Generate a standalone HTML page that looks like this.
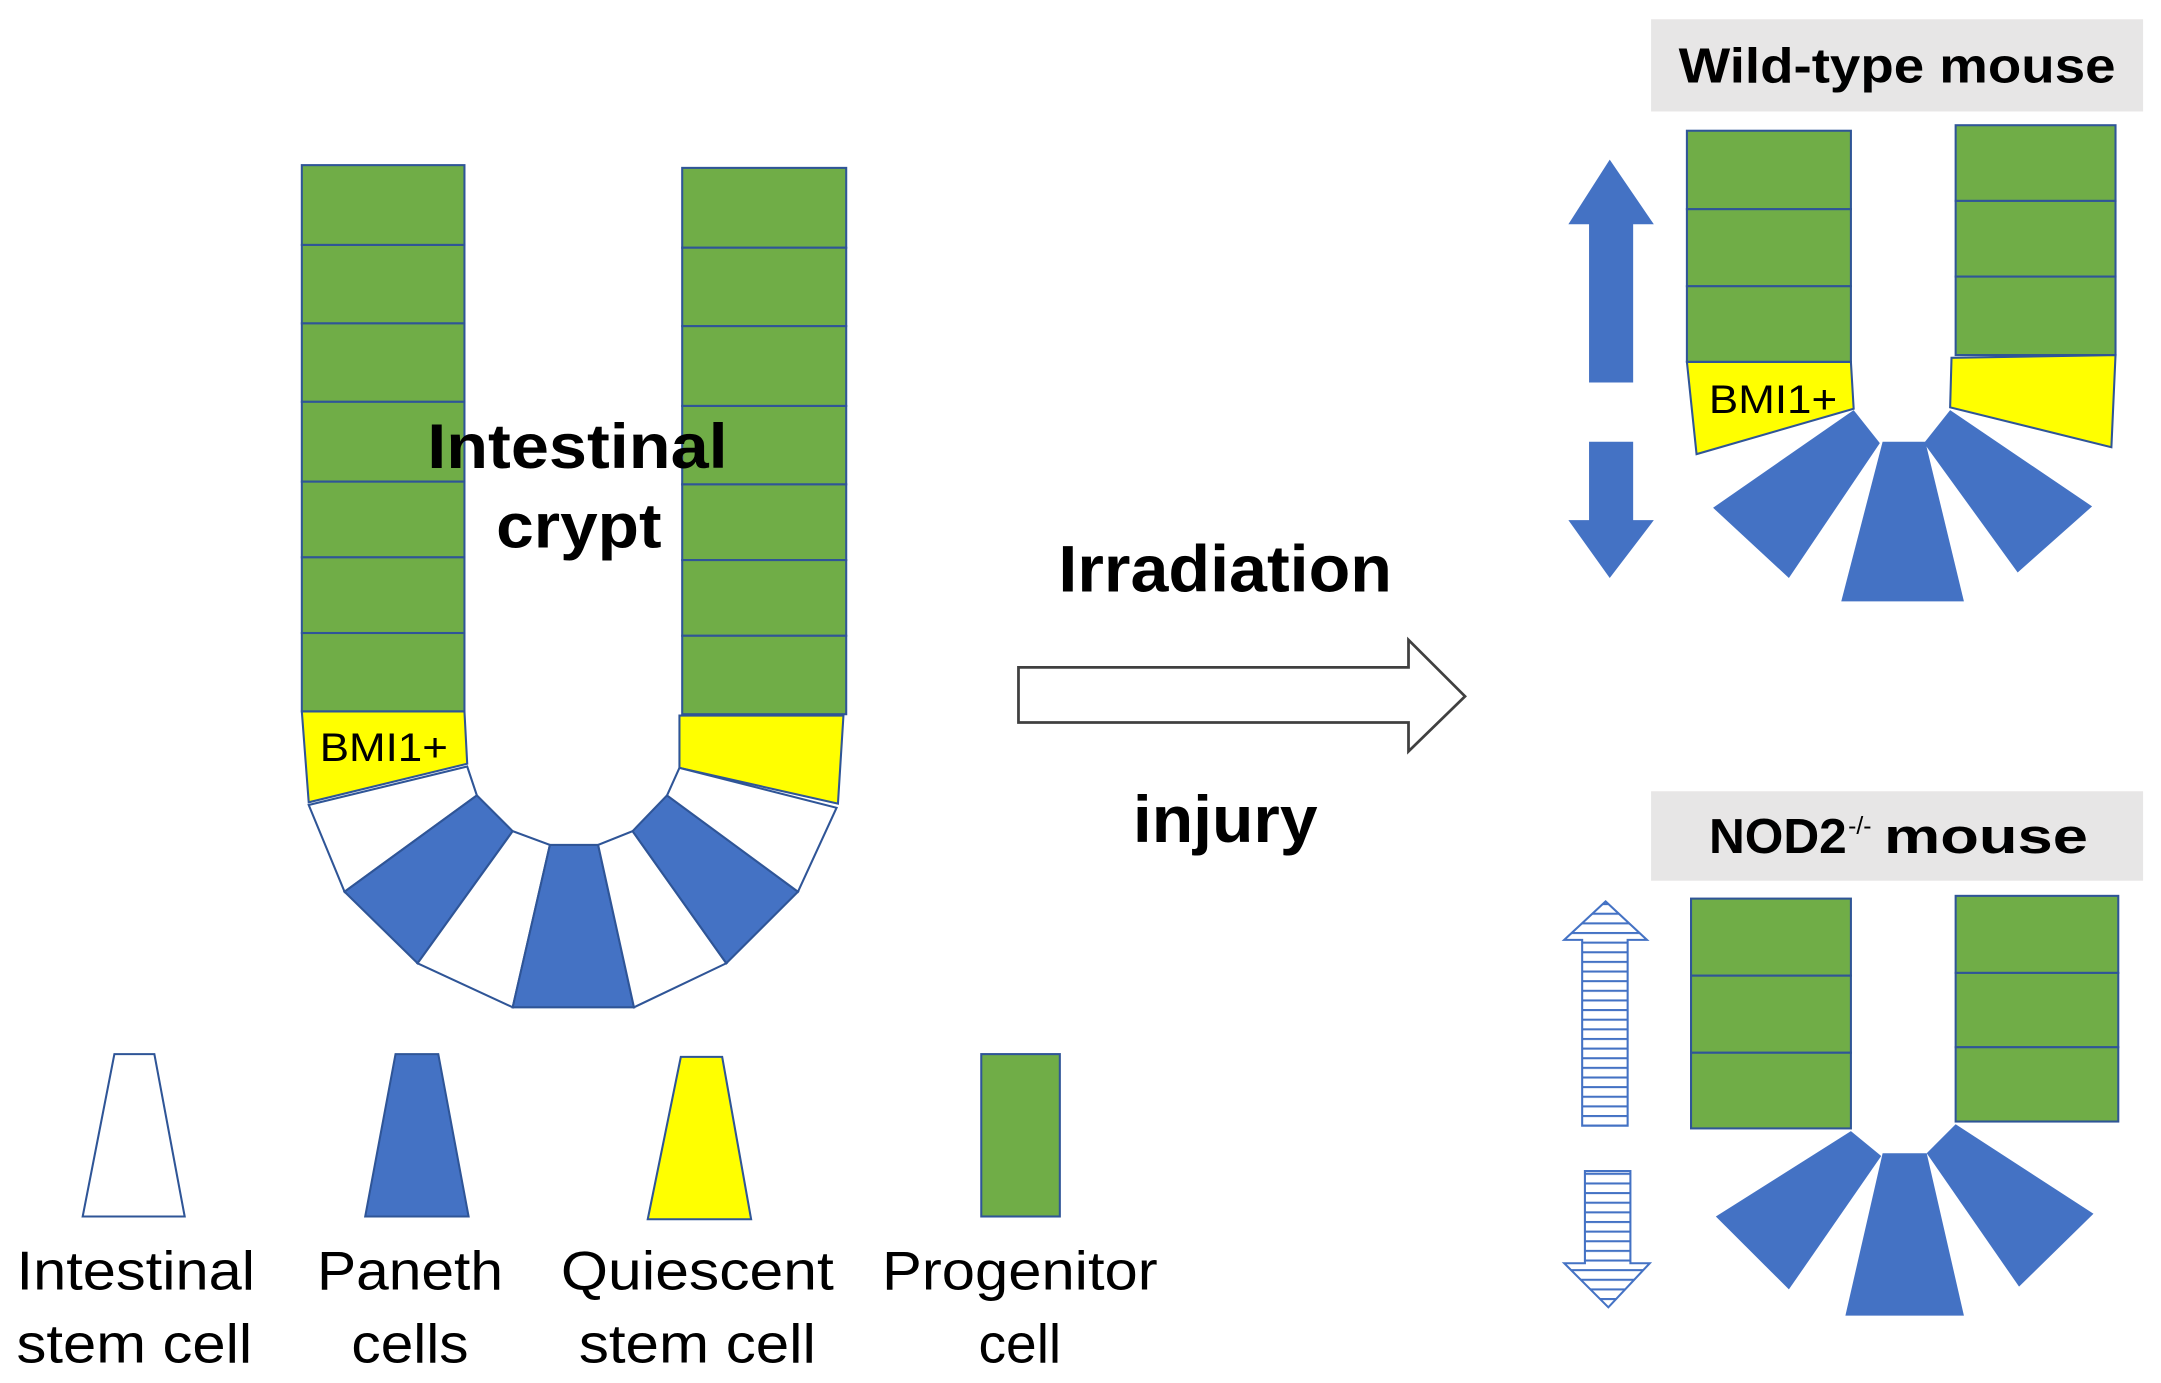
<!DOCTYPE html>
<html><head><meta charset="utf-8"><style>
html,body{margin:0;padding:0;background:#fff;}
svg{display:block;}
text{font-family:"Liberation Sans",Arial,sans-serif;}
</style></head><body>
<svg width="2161" height="1383" viewBox="0 0 1568 1005" preserveAspectRatio="none" xmlns="http://www.w3.org/2000/svg">
<defs>
<pattern id="st" width="10" height="7" patternUnits="userSpaceOnUse">
<rect width="10" height="7" fill="#fff"/><line x1="0" y1="6" x2="10" y2="6" stroke="#4472c4" stroke-width="1.5"/>
</pattern>
</defs>
<g stroke="#2f5597" stroke-width="1.5">
<g fill="#70ad47">
<rect x="219" y="120" width="118" height="58"/><rect x="219" y="178" width="118" height="57"/><rect x="219" y="235" width="118" height="57"/>
<rect x="219" y="292" width="118" height="58"/><rect x="219" y="350" width="118" height="55"/><rect x="219" y="405" width="118" height="55"/><rect x="219" y="460" width="118" height="57"/>
<rect x="495" y="122" width="119" height="58"/><rect x="495" y="180" width="119" height="57"/><rect x="495" y="237" width="119" height="58"/>
<rect x="495" y="295" width="119" height="57"/><rect x="495" y="352" width="119" height="55"/><rect x="495" y="407" width="119" height="55"/><rect x="495" y="462" width="119" height="57"/>
</g>
<polygon points="219,517 337,517 339,555 224,583" fill="#ffff00"/>
<polygon points="493,520 612,520 608,584 493,558" fill="#ffff00"/>
<polygon points="224,585 250,648 346,578 339,557" fill="#fff"/>
<polygon points="250,648 303,700 372,604 346,578" fill="#4472c4"/>
<polygon points="303,700 372,732 399,614 372,604" fill="#fff"/>
<polygon points="372,732 460,732 434,614 399,614" fill="#4472c4"/>
<polygon points="460,732 527,700 459,604 434,614" fill="#fff"/>
<polygon points="527,700 579,648 484,578 459,604" fill="#4472c4"/>
<polygon points="579,648 607,587 493,558 484,578" fill="#fff"/>
<polygon points="83,766 112,766 134,884 60,884" fill="#fff"/>
<polygon points="287,766 318,766 340,884 265,884" fill="#4472c4"/>
<polygon points="494,768 524,768 545,886 470,886" fill="#ffff00"/>
<rect x="712" y="766" width="57" height="118" fill="#70ad47"/>
</g>
<text x="232" y="553" font-size="29" textLength="93" lengthAdjust="spacingAndGlyphs">BMI1+</text>
<text x="310" y="340" font-size="46" font-weight="bold" textLength="218" lengthAdjust="spacingAndGlyphs">Intestinal</text>
<text x="360" y="398" font-size="46" font-weight="bold" textLength="120" lengthAdjust="spacingAndGlyphs">crypt</text>
<g font-size="40">
<text x="12" y="937" textLength="173" lengthAdjust="spacingAndGlyphs">Intestinal</text><text x="12" y="990" textLength="171" lengthAdjust="spacingAndGlyphs">stem cell</text>
<text x="230" y="937" textLength="135" lengthAdjust="spacingAndGlyphs">Paneth</text><text x="255" y="990" textLength="85" lengthAdjust="spacingAndGlyphs">cells</text>
<text x="407" y="937" textLength="198" lengthAdjust="spacingAndGlyphs">Quiescent</text><text x="420" y="990" textLength="172" lengthAdjust="spacingAndGlyphs">stem cell</text>
<text x="640" y="937" textLength="200" lengthAdjust="spacingAndGlyphs">Progenitor</text><text x="710" y="990" textLength="60" lengthAdjust="spacingAndGlyphs">cell</text>
</g>
<polygon points="739,485 1022,485 1022,465 1063,506 1022,546 1022,525 739,525" fill="#fff" stroke="#404040" stroke-width="2"/>
<text x="768" y="430" font-size="48" font-weight="bold" textLength="242" lengthAdjust="spacingAndGlyphs">Irradiation</text>
<text x="822" y="612" font-size="48" font-weight="bold" textLength="134" lengthAdjust="spacingAndGlyphs">injury</text>
<rect x="1198" y="14" width="357" height="67" fill="#e7e6e6"/>
<text x="1218" y="60" font-size="36" font-weight="bold" textLength="317" lengthAdjust="spacingAndGlyphs">Wild-type mouse</text>
<g stroke="#2f5597" stroke-width="1.5">
<g fill="#70ad47">
<rect x="1224" y="95" width="119" height="57"/><rect x="1224" y="152" width="119" height="56"/><rect x="1224" y="208" width="119" height="55"/>
<rect x="1419" y="91" width="116" height="55"/><rect x="1419" y="146" width="116" height="55"/><rect x="1419" y="201" width="116" height="57"/>
</g>
<polygon points="1224,263 1343,263 1345,297 1231,330" fill="#ffff00"/>
<polygon points="1416,260 1535,258 1532,325 1415,296" fill="#ffff00"/>
</g>
<text x="1240" y="300" font-size="29" textLength="93" lengthAdjust="spacingAndGlyphs">BMI1+</text>
<g fill="#4472c4">
<polygon points="1345,298 1364,322 1298,420 1243,369"/>
<polygon points="1366,321 1397,321 1425,437 1336,437"/>
<polygon points="1396,322 1415,298 1518,368 1464,416"/>
<polygon points="1168,116 1200,163 1185,163 1185,278 1153,278 1153,163 1138,163"/>
<polygon points="1153,321 1185,321 1185,378 1200,378 1168,420 1138,378 1153,378"/>
</g>
<rect x="1198" y="575" width="357" height="65" fill="#e7e6e6"/>
<text x="1240" y="620" font-size="36" font-weight="bold" textLength="100" lengthAdjust="spacingAndGlyphs">NOD2</text>
<text x="1341" y="606" font-size="18">-/-</text>
<text x="1367" y="620" font-size="36" font-weight="bold" textLength="148" lengthAdjust="spacingAndGlyphs">mouse</text>
<g stroke="#2f5597" stroke-width="1.5" fill="#70ad47">
<rect x="1227" y="653" width="116" height="56"/><rect x="1227" y="709" width="116" height="56"/><rect x="1227" y="765" width="116" height="55"/>
<rect x="1419" y="651" width="118" height="56"/><rect x="1419" y="707" width="118" height="54"/><rect x="1419" y="761" width="118" height="54"/>
</g>
<g fill="#4472c4">
<polygon points="1343,822 1365,840 1298,937 1245,884"/>
<polygon points="1366,838 1398,838 1425,956 1339,956"/>
<polygon points="1398,838 1419,817 1519,882 1465,935"/>
</g>
<g fill="url(#st)" stroke="#4472c4" stroke-width="1.5">
<polygon points="1165,655 1195,683 1181,683 1181,818 1148,818 1148,683 1135,683"/>
<polygon points="1150,851 1183,851 1183,918 1197,918 1167,950 1135,918 1150,918"/>
</g>
</svg>
</body></html>
